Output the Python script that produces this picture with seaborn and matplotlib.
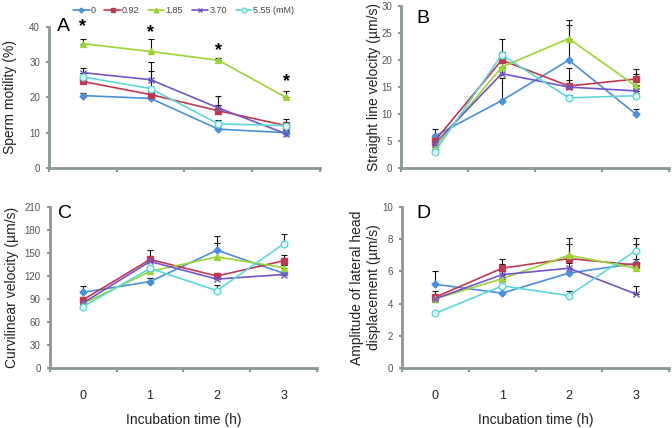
import matplotlib
matplotlib.use("Agg")
import matplotlib.pyplot as plt
import numpy as np
import pandas as pd
import seaborn as sns

# ---- data -------------------------------------------------------------
TIMES = [0, 1, 2, 3]
DOSES = ["0", "0.92", "1.85", "3.70", "5.55"]
LEGEND_LABELS = ["0", "0.92", "1.85", "3.70", "5.55 (mM)"]

# Panel A: sperm motility (%)
motility = {
    "0":    [20.5, 19.7, 11.0, 10.0],
    "0.92": [24.5, 20.8, 16.2, 12.0],
    "1.85": [35.2, 33.0, 30.5, 20.0],
    "3.70": [27.0, 25.0, 17.0, 9.7],
    "5.55": [25.8, 22.5, 12.5, 12.0],
}
motility_err = {
    "0":    [0.6, 0.8, 1.0, 0.6],
    "0.92": [0.8, 1.0, 1.5, 2.0],
    "1.85": [1.3, 3.5, 0.7, 1.7],
    "3.70": [1.3, 5.0, 3.5, 1.0],
    "5.55": [1.0, 5.0, 1.0, 1.0],
}
motility_star = [40.0, 38.3, 33.2, 24.4]

# Panel B: straight line velocity (um/s)
vsl = {
    "0":    [5.9, 12.5, 20.0, 10.0],
    "0.92": [5.0, 20.0, 15.2, 16.5],
    "1.85": [3.8, 18.7, 24.0, 15.2],
    "3.70": [4.5, 17.5, 15.0, 14.3],
    "5.55": [3.0, 21.0, 13.0, 13.4],
}
vsl_err = {
    "0":    [1.3, 4.2, 6.5, 1.0],
    "0.92": [0.5, 4.0, 1.2, 1.0],
    "1.85": [0.5, 1.0, 3.4, 3.2],
    "3.70": [0.5, 1.0, 3.5, 1.0],
    "5.55": [0.5, 0.5, 0.5, 0.5],
}

# Panel C: curvilinear velocity (um/s)
vcl = {
    "0":    [98.8, 112.7, 153.7, 123.5],
    "0.92": [89.0, 141.6, 120.0, 140.0],
    "1.85": [84.0, 126.0, 145.0, 131.0],
    "3.70": [85.0, 139.0, 116.0, 122.0],
    "5.55": [80.0, 130.0, 101.0, 162.0],
}
vcl_err = {
    "0":    [8.0, 5.0, 18.0, 3.0],
    "0.92": [3.0, 13.0, 4.0, 8.0],
    "1.85": [3.0, 5.0, 18.0, 3.0],
    "3.70": [3.0, 3.0, 3.0, 3.0],
    "5.55": [3.0, 3.0, 7.0, 13.0],
}

# Panel D: amplitude of lateral head displacement (um/s)
alh = {
    "0":    [5.2, 4.65, 5.9, 6.5],
    "0.92": [4.4, 6.2, 6.8, 6.4],
    "1.85": [4.3, 5.55, 7.0, 6.2],
    "3.70": [4.3, 5.8, 6.2, 4.6],
    "5.55": [3.4, 5.1, 4.5, 7.3],
}
alh_err = {
    "0":    [0.8, 0.3, 0.3, 0.3],
    "0.92": [0.4, 0.6, 0.9, 1.7],
    "1.85": [0.2, 0.9, 1.1, 0.3],
    "3.70": [0.2, 0.3, 0.3, 0.5],
    "5.55": [0.1, 0.3, 0.3, 0.4],
}

# ---- styling ----------------------------------------------------------
COLOURS = {
    "0": "#4a8fdc",
    "0.92": "#c0394f",
    "1.85": "#99d533",
    "3.70": "#7355c8",
    "5.55": "#5fd7d7",
}
MARKERS = {"0": "D", "0.92": "s", "1.85": "^", "3.70": "x", "5.55": "o"}
MSIZE = {"0": 3.5, "0.92": 5, "1.85": 4.8, "3.70": 4.8, "5.55": 4.8}
AXIS_GREY = "#8c9696"

sns.set_theme(style="white")
plt.rcParams["font.family"] = ["Liberation Sans", "DejaVu Sans"]


def draw_panel(ax, values, errors, ylim, yticks, ylabel, ylabelpad,
               letter, letter_xy, show_x):
    rows = []
    for d in DOSES:
        for t, v in zip(TIMES, values[d]):
            rows.append({"time": t, "value": v, "dose": d})
    df = pd.DataFrame(rows)
    for d in DOSES:
        ax.errorbar(TIMES, values[d], yerr=[np.zeros(4), errors[d]],
                    fmt="none", ecolor="#111111", elinewidth=0.8,
                    capsize=2, capthick=0.8, zorder=1)
    for d in DOSES:
        sub = df[df["dose"] == d]
        mfc = "#e8fafa" if d == "5.55" else COLOURS[d]
        sns.lineplot(data=sub, x="time", y="value", ax=ax,
                     color=COLOURS[d], linewidth=1.2, marker=MARKERS[d],
                     markersize=MSIZE[d], markerfacecolor=mfc,
                     markeredgecolor=COLOURS[d], markeredgewidth=1.0,
                     label=d, legend=False, zorder=3)

    ax.set_xlim(-0.5, 3.5)
    ax.set_ylim(*ylim)
    ax.set_yticks(yticks)
    ax.set_xticks(TIMES)
    ax.set_xticks([-0.5, 0.5, 1.5, 2.5, 3.5], minor=True)
    ax.tick_params(axis="x", which="major", length=0, pad=16,
                   labelsize=9, labelcolor="#222222")
    ax.tick_params(axis="x", which="minor", length=3, width=1.5,
                   color=AXIS_GREY, direction="out", bottom=True)
    ax.tick_params(axis="y", length=2.5, width=1.5, color=AXIS_GREY,
                   direction="out", left=True, labelsize=7,
                   labelcolor="#555555", pad=4)
    if not show_x:
        ax.set_xticklabels([])
        ax.set_xlabel("")
    else:
        ax.set_xlabel("Incubation time (h)", fontsize=10, labelpad=8,
                      color="#222222")
    ax.set_ylabel(ylabel, fontsize=10, color="#222222", labelpad=ylabelpad)
    sns.despine(ax=ax)
    for side in ("left", "bottom"):
        ax.spines[side].set_color(AXIS_GREY)
        ax.spines[side].set_linewidth(2)
    ax.text(letter_xy[0], letter_xy[1], letter, transform=ax.transAxes,
            fontsize=14, va="center", ha="left", color="black")


fig = plt.figure(figsize=(6.72, 4.28), dpi=100)
axA = fig.add_axes([0.073, 0.6075, 0.403, 0.33])
axB = fig.add_axes([0.597, 0.6075, 0.399, 0.378])
axC = fig.add_axes([0.074, 0.1402, 0.398, 0.376])
axD = fig.add_axes([0.598, 0.1402, 0.398, 0.376])

draw_panel(axA, motility, motility_err, (0, 40), range(0, 41, 10),
           "Sperm motility (%)", 9, "A", (0.03, 1.0), False)
draw_panel(axB, vsl, vsl_err, (0, 30), range(0, 31, 5),
           "Straight line velocity (\u00b5m/s)", 0, "B", (0.055, 0.925),
           False)
draw_panel(axC, vcl, vcl_err, (0, 210), range(0, 211, 30),
           "Curvilinear velocity (\u00b5m/s)", 4, "C", (0.03, 0.96), True)
draw_panel(axD, alh, alh_err, (0, 10), range(0, 11, 2),
           "Amplitude of lateral head\ndisplacement (\u00b5m/s)", 1, "D",
           (0.055, 0.96), True)

for t, y in zip(TIMES, motility_star):
    axA.text(t, y, "*", ha="center", va="center", fontsize=13,
             color="black", fontweight="bold")

handles, labels = axA.get_legend_handles_labels()
fig.legend(handles, LEGEND_LABELS, loc="upper left",
           bbox_to_anchor=(0.097, 1.005), ncol=5, frameon=False,
           fontsize=6.5, handlelength=1.8, handletextpad=0.15,
           columnspacing=0.95, labelcolor="#444444", markerscale=0.7)

fig.savefig("out.png", dpi=100)
